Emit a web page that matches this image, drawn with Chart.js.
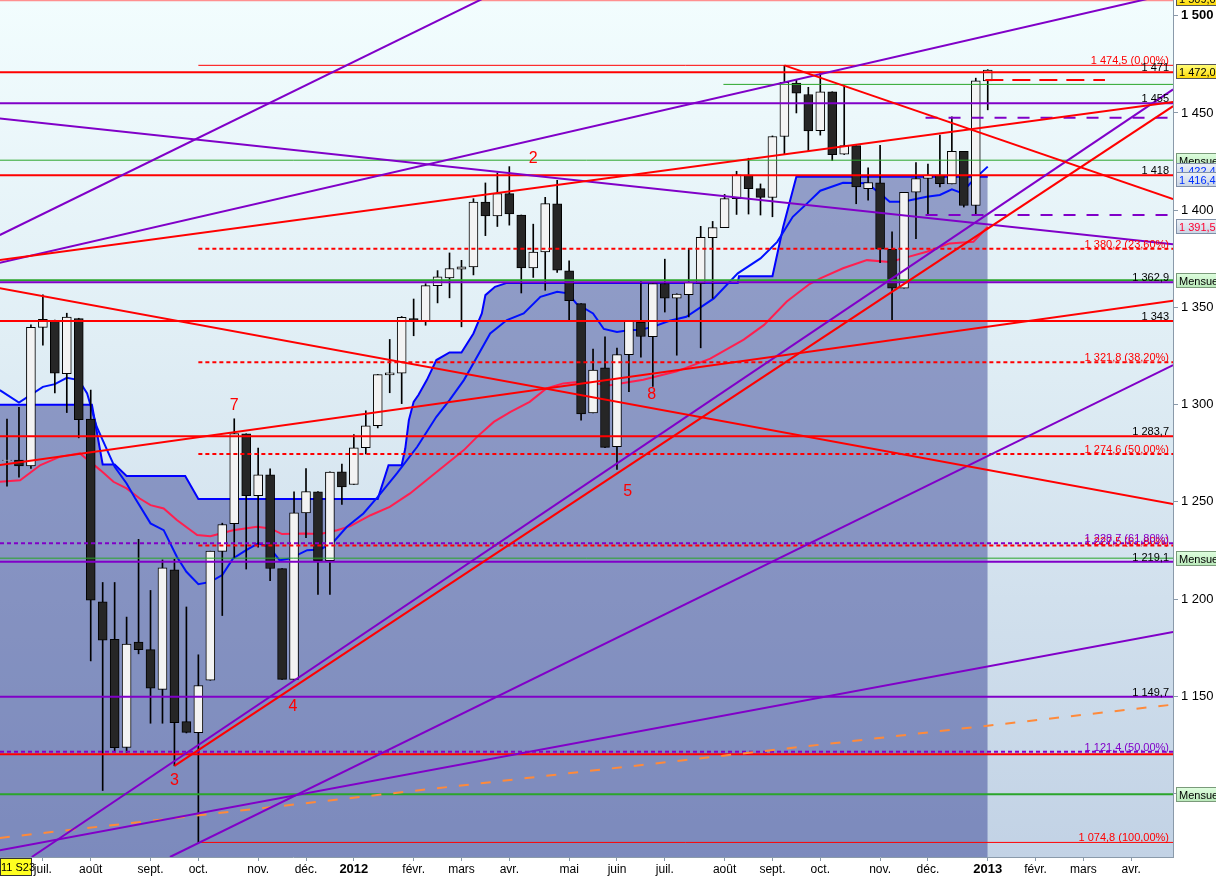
<!DOCTYPE html>
<html>
<head>
<meta charset="utf-8">
<script src="https://cdn.jsdelivr.net/npm/chart.js@4.4.1/dist/chart.umd.min.js"></script>
<style>
  html, body { margin: 0; padding: 0; background: #fff; overflow: hidden; }
  canvas { display: block; }
</style>
</head>
<body>
<canvas id="chart" width="1216" height="876" style="width:1216px;height:876px"></canvas>
<script>
// weekly bars, first one = week of 13 June 2011 (bar index 0)
const firstWeek = '2011-06-13';

const open = [1271.3,1271.5,1268.4,1339.7,1343.3,1315.9,1344.3,1292.6,1198.5,1179.2,1123.6,1177.9,1174.0,1153.5,1215.0,1136.9,1131.2,1158.2,1224.5,1238.7,1285.0,1253.2,1263.9,1215.6,1158.7,1244.3,1255.1,1219.7,1265.4,
  1258.9,1277.8,1289.1,1315.3,1316.2,1344.3,1343.1,1361.2,1365.2,1369.6,1370.8,1404.2,1397.1,1408.5,1397.5,1370.3,1378.5,1403.3,1368.8,1351.9,1295.7,1318.9,1278.3,1325.7,1342.4,1334.9,1362.3,1354.7,1356.5,1362.3,1385.9,1391.0,1405.9,1418.1,1411.1,1406.5,1437.9,1465.4,1459.5,1440.9,1460.9,1428.8,1433.2,1411.0,1414.0,1379.9,1359.9,1409.2,1416.3,1418.1,1413.5,1430.2,1402.4,1466.5];
const high = [1292.5,1298.6,1341.0,1356.5,1343.5,1347.0,1344.4,1307.4,1208.5,1208.5,1190.7,1230.7,1204.4,1220.1,1220.4,1195.9,1171.3,1224.6,1239.0,1292.7,1285.0,1277.6,1267.0,1215.6,1255.1,1267.1,1255.3,1265.4,1269.4,
  1284.6,1296.8,1315.5,1333.5,1345.3,1354.3,1362.2,1368.9,1378.0,1374.2,1405.9,1414.0,1419.2,1422.4,1397.5,1392.8,1406.6,1415.3,1373.9,1351.9,1328.5,1334.9,1329.1,1343.3,1363.5,1362.2,1374.8,1357.0,1380.4,1391.7,1394.2,1408.1,1420.0,1426.7,1413.5,1438.2,1474.5,1467.1,1463.2,1471.0,1460.9,1464.0,1433.2,1421.8,1433.4,1388.8,1409.2,1424.5,1423.7,1438.6,1448.0,1430.2,1467.9,1472.3];
const low = [1258.1,1262.7,1267.2,1330.6,1306.0,1295.9,1282.9,1168.1,1101.5,1122.0,1121.1,1171.8,1136.1,1136.1,1114.2,1131.1,1074.8,1158.2,1191.5,1221.1,1215.4,1226.6,1209.4,1158.7,1158.7,1231.5,1202.4,1202.4,1248.6,
  1258.9,1274.6,1288.0,1306.1,1300.5,1335.4,1340.8,1352.3,1354.9,1340.0,1366.7,1386.9,1391.6,1392.3,1357.4,1365.4,1358.8,1368.0,1343.1,1292.0,1295.7,1277.8,1266.7,1306.6,1324.4,1309.3,1347.6,1325.4,1345.1,1329.2,1354.7,1391.0,1397.8,1398.0,1397.5,1396.6,1429.0,1450.0,1430.5,1438.6,1425.5,1428.6,1403.3,1405.1,1373.0,1343.4,1359.9,1385.4,1398.2,1411.9,1413.5,1401.6,1398.1,1451.6];
const close = [1271.5,1268.5,1339.7,1343.8,1316.1,1345.0,1292.3,1199.4,1178.8,1123.5,1176.8,1174.0,1154.2,1216.0,1136.4,1131.4,1155.5,1224.6,1238.3,1285.1,1253.2,1263.9,1215.7,1158.7,1244.3,1255.2,1219.7,1265.3,1257.6,
  1277.8,1289.1,1315.4,1316.3,1344.9,1342.6,1361.2,1365.7,1370.0,1370.9,1404.2,1397.1,1408.5,1398.1,1370.3,1378.5,1403.4,1369.1,1353.4,1295.2,1317.8,1278.0,1325.7,1342.8,1335.0,1362.2,1354.7,1356.8,1362.7,1386.0,1391.0,1405.9,1418.2,1411.1,1406.6,1437.9,1465.8,1460.2,1440.7,1460.9,1428.6,1433.2,1411.9,1414.2,1379.9,1359.9,1409.2,1416.2,1418.1,1413.6,1430.2,1402.4,1466.5,1472.1];

// indicator lines: [bar index, value]
const blueMA = [[-0.6,1307.4],[1.0,1301],[3.0,1309.1],[4.0,1310.5],[5.0,1313.8],[6.0,1312.6],[6.7,1305.7],[7.5,1288.6],[8.0,1281.7],[9.0,1268],[10.0,1259.4],[10.7,1251.9],[12.0,1238.9],[13.1,1235.4],[14.2,1221.7],[15.0,1214],[16.0,1207.6],[17.0,1208.8],[18.0,1212.3],[18.9,1220.9],[20.0,1225.1],[21.0,1228.6],[21.9,1226.8],[22.8,1219.9],[23.7,1220.9],[25.1,1225.1],[26.2,1225.5],[27.3,1229.4],[28.4,1237],[29.8,1244],[31.0,1252.5],[32.6,1264.6],[34.3,1278.3],[35.9,1293.7],[37.0,1302.3],[38.2,1312.6],[39.0,1321.2],[40.4,1336.6],[41.8,1343.5],[43.2,1346.9],[44.6,1355.4],[46.0,1358],[46.9,1357.2],[47.6,1352],[49.0,1346.9],[49.9,1338.9],[51.0,1337.4],[52.1,1338.3],[52.9,1338.3],[54.0,1340],[55.4,1343.1],[56.8,1345.2],[59.1,1354.6],[61.1,1367.5],[63.0,1375.2],[64.4,1383.7],[65.7,1396.6],[66.9,1403.5],[68.0,1410],[69.9,1414.1],[71.9,1413.8],[73.0,1408.6],[73.8,1404.3],[74.9,1404.3],[76.9,1406.9],[78.0,1407.8],[79.0,1410.7],[79.8,1408.9],[80.8,1415.5],[82.0,1422.4]];
const redMA = [[-0.6,1260.3],[1.1,1261.1],[2.8,1268.9],[4.4,1273.1],[6.1,1274.9],[7.8,1266.3],[8.9,1260.3],[10.0,1256.9],[11.1,1251.7],[12.0,1248.3],[13.1,1246.6],[14.2,1240.6],[15.9,1232.9],[17.0,1232.3],[18.9,1235.4],[20.9,1237.1],[22.0,1236.3],[23.0,1233.4],[24.8,1233.7],[26.2,1233.4],[27.6,1235.4],[28.7,1237.5],[30.4,1243.1],[32.0,1247.4],[33.7,1254.3],[35.4,1262.8],[36.8,1269.7],[38.2,1276.6],[39.3,1283.4],[40.7,1291.1],[42.1,1296.3],[43.7,1301.4],[45.1,1308.3],[46.5,1310.9],[47.9,1311.7],[50.4,1310],[53.2,1312.8],[56.0,1317.1],[58.8,1323.6],[61.6,1333.4],[63.3,1341],[65.2,1353],[67.1,1362],[68.0,1364.9],[69.9,1370.1],[71.9,1374.3],[73.8,1373.4],[74.9,1375.2],[76.9,1378.6],[78.8,1382.9],[80.8,1383.7],[82.0,1391.5]];
const baseLine = [[-0.6,1299.9],[7.1,1299.9],[8.0,1269.2],[9.0,1269.2],[10.0,1263.3],[14.9,1263.3],[16.0,1251.5],[31.0,1251.5],[31.9,1268.8],[33.0,1268.8],[33.3,1277.4],[33.6,1292],[34.0,1301.4],[34.4,1304.9],[35.1,1312.6],[35.9,1322.9],[37.0,1326.8],[38.0,1326.8],[39.0,1336.6],[39.7,1346.9],[40.0,1356.3],[40.8,1360.6],[41.8,1362.6],[61.1,1362.6],[61.2,1366],[64.0,1366],[64.9,1391.5],[66.0,1417.2],[82.0,1417.2]];

// horizontal levels
const redLevels = [1471, 1418, 1343, 1283.7, 1120.2];
const fibLevels = [1380.2, 1321.8, 1274.6, 1227.5];
const fibEnds = [1474.5, 1074.8];
const purpleLevels = [1455, 1362.9, 1219.1, 1149.7];
const purpleDotted = [1228.7, 1121.4];
const greenThin = [1425.7, 1221];
const greenThick = [1364, 1099.6];
const fibStart = 16;

// trend lines: [[bar, value], [bar, value]]
const purpleTrends = [
  [[-0.6,1387.2],[45,1524.5]],
  [[-0.6,1372.9],[97.5,1511.7]],
  [[-0.6,1447.2],[97.5,1382.5]],
  [[2.07,1067.3],[97.5,1462.1]],
  [[13.63,1067.3],[97.5,1320.3]],
  [[-0.6,1070.8],[97.5,1183.1]]
];
const redTrends = [
  [[-0.6,1374.3],[97.5,1455.6]],
  [[-0.6,1359.8],[97.5,1248.8]],
  [[-0.6,1268.9],[97.5,1353.4]],
  [[65,1474.5],[97.5,1405.7]],
  [[14,1114.2],[97.5,1453.5]]
];
const orangeTrend = [[-0.6,1077.1],[97.5,1145.7]];

const waveTags = ['2','3','4','5','7','8'];
const waveAt = [[44.0,1426.3],[14.0,1106.8],[23.9,1144.9],[51.9,1255.0],[19.0,1299.7],[53.9,1305]];

const levelTags = [
  ['1 474,5 (0,00%)', 1474.5, '#ff0000'],
  ['1 471', 1471, '#000'],
  ['1 455', 1455, '#000'],
  ['1 418', 1418, '#000'],
  ['1 380,2 (23,60%)', 1380.2, '#ff0000'],
  ['1 362,9', 1362.9, '#000'],
  ['1 343', 1343, '#000'],
  ['1 321,8 (38,20%)', 1321.8, '#ff0000'],
  ['1 283,7', 1283.7, '#000'],
  ['1 274,6 (50,00%)', 1274.6, '#ff0000'],
  ['1 227,5 (61,80%)', 1227.5, '#ff0000'],
  ['1 228,7 (61,80%)', 1228.7, '#8000c8'],
  ['1 219,1', 1219.1, '#000'],
  ['1 149,7', 1149.7, '#000'],
  ['1 121,4 (50,00%)', 1121.4, '#8000c8'],
  ['1 074,8 (100,00%)', 1074.8, '#ff0000']
];

const yTicks = [1100, 1150, 1200, 1250, 1300, 1350, 1400, 1450, 1500];
const monthNames = ['janv.','févr.','mars','avr.','mai','juin','juil.','août','sept.','oct.','nov.','déc.'];

const X_MIN = -0.585, X_MAX = 97.49, Y_MIN = 1067.3, Y_MAX = 1508.1;
const FONT = '"Liberation Sans", Arial, sans-serif';
const RED = '#ff0000', PURPLE = '#8000c8', GREEN = '#2aa52a';

// month ticks sit on the first weekly bar of each month
const DAY = 86400000;
const t0 = Date.parse(firstWeek + 'T00:00:00Z');
const monthTicks = [];
for (let yr = 2011; yr <= 2013; yr++) {
  for (let m = 0; m < 12; m++) {
    const t = Date.UTC(yr, m, 1);
    const dow = new Date(t).getUTCDay();
    const first = t + ((8 - dow) % 7) * DAY;
    const k = Math.round((first - t0) / DAY) / 7;
    if (k > X_MIN + 1 && k < X_MAX) monthTicks.push({ k: k, label: m === 0 ? String(yr) : monthNames[m], year: m === 0 });
  }
}

function fmt(v) {
  return String(v).replace(/\B(?=(\d{3})+(?!\d))/g, ' ');
}

function lineDs(pts, color, width, dash, order) {
  return {
    type: 'line',
    data: pts.map(p => ({ x: p[0], y: p[1] })),
    borderColor: color, borderWidth: width, borderDash: dash || [],
    borderCapStyle: 'butt', pointRadius: 0, pointHoverRadius: 0,
    fill: false, tension: 0, order: order
  };
}

const datasets = [];
datasets.push({
  type: 'line',
  data: baseLine.map(p => ({ x: p[0], y: p[1] })),
  borderColor: '#0000ff', borderWidth: 2, pointRadius: 0, tension: 0,
  fill: 'start', backgroundColor: 'rgba(40,50,140,0.45)', order: 100
});
datasets.push(lineDs(redMA, '#ff1f4f', 2, [], 90));
datasets.push(lineDs(blueMA, '#0010ff', 2, [], 89));
datasets.push({
  type: 'bar',
  data: low.map((l, i) => ({ x: i, y: [l, high[i]] })),
  backgroundColor: '#000', borderWidth: 0, barThickness: 1, grouped: false, order: 80
});
datasets.push({
  type: 'bar',
  data: open.map((o, i) => ({ x: i, y: [Math.min(o, close[i]), Math.max(o, close[i])] })),
  backgroundColor: open.map((o, i) => close[i] >= o ? '#f3f3f3' : '#262626'),
  borderColor: '#000', borderWidth: 1, borderSkipped: false,
  barThickness: 9, grouped: false, order: 79
});

// horizontal levels
greenThin.forEach(v => datasets.push(lineDs([[X_MIN, v], [X_MAX, v]], GREEN, 1, [], 30)));
greenThick.forEach(v => datasets.push(lineDs([[X_MIN, v], [X_MAX, v]], GREEN, 2, [], 30)));
purpleLevels.forEach(v => datasets.push(lineDs([[X_MIN, v], [X_MAX, v]], PURPLE, 2, [], 29)));
purpleDotted.forEach(v => datasets.push(lineDs([[X_MIN, v], [X_MAX, v]], PURPLE, 2, [4, 3], 29)));
redLevels.forEach(v => datasets.push(lineDs([[X_MIN, v], [X_MAX, v]], RED, 2, [], 28)));
fibLevels.forEach(v => datasets.push(lineDs([[fibStart, v], [X_MAX, v]], RED, 2, [4, 3], 28)));
fibEnds.forEach(v => datasets.push(lineDs([[fibStart, v], [X_MAX, v]], RED, 1, [], 28)));
datasets.push(lineDs([[X_MIN, 1508], [X_MAX, 1508]], '#ff9090', 2, [], 28));
datasets.push(lineDs([[59.9, 1464.7], [X_MAX, 1464.7]], GREEN, 1, [], 28));
datasets.push(lineDs([[81.8, 1467], [91.8, 1467]], RED, 2, [18, 9], 27));
datasets.push(lineDs([[76.8, 1447.5], [X_MAX, 1447.5]], PURPLE, 2, [12, 11], 27));
datasets.push(lineDs([[76.8, 1397.5], [X_MAX, 1397.5]], PURPLE, 2, [12, 11], 27));

// trend lines
purpleTrends.forEach(t => datasets.push(lineDs(t, PURPLE, 2, [], 20)));
redTrends.forEach(t => datasets.push(lineDs(t, RED, 2, [], 19)));
datasets.push(lineDs(orangeTrend, '#ff8a3a', 2, [10, 12], 21));

const background = {
  id: 'background',
  beforeDraw(chart) {
    const { ctx, chartArea: a } = chart;
    ctx.save();
    ctx.fillStyle = '#fff';
    ctx.fillRect(0, 0, chart.width, chart.height);
    const g = ctx.createLinearGradient(0, a.top, 0, a.bottom);
    g.addColorStop(0, '#f2fdfe');
    g.addColorStop(0.4, '#e0eef5');
    g.addColorStop(1, '#c2d2e5');
    ctx.fillStyle = g;
    ctx.fillRect(a.left, a.top, a.right - a.left, a.bottom - a.top);
    ctx.restore();
  }
};

function tag(ctx, text, py, c1, c2, stroke, color) {
  const x0 = 1176, h = 15, w = 45, top = Math.round(py - h / 2);
  const g = ctx.createLinearGradient(0, top, 0, top + h);
  g.addColorStop(0, c1);
  g.addColorStop(1, c2);
  ctx.fillStyle = g;
  ctx.fillRect(x0, top, w, h);
  ctx.strokeStyle = stroke;
  ctx.lineWidth = 1;
  ctx.strokeRect(x0 + 0.5, top + 0.5, w, h - 1);
  ctx.fillStyle = color;
  ctx.font = '11px ' + FONT;
  ctx.textAlign = 'left';
  ctx.textBaseline = 'middle';
  ctx.fillText(text, x0 + 3, top + h / 2 + 1);
}

const notes = {
  id: 'notes',
  afterDatasetsDraw(chart) {
    const { ctx, chartArea: a, scales: { x, y } } = chart;
    ctx.save();
    ctx.beginPath();
    ctx.rect(a.left, a.top, a.right - a.left, a.bottom - a.top);
    ctx.clip();
    ctx.font = '16px ' + FONT;
    ctx.fillStyle = RED;
    ctx.textAlign = 'center';
    ctx.textBaseline = 'middle';
    waveTags.forEach((t, i) => ctx.fillText(t, x.getPixelForValue(waveAt[i][0]), y.getPixelForValue(waveAt[i][1])));
    ctx.font = '11px ' + FONT;
    ctx.textAlign = 'right';
    ctx.textBaseline = 'alphabetic';
    levelTags.forEach(t => {
      ctx.fillStyle = t[2];
      ctx.fillText(t[0], a.right - 4, y.getPixelForValue(t[1]) - 1);
    });
    ctx.restore();
  },
  afterDraw(chart) {
    const { ctx, chartArea: a, scales: { y } } = chart;
    ctx.save();
    const py = v => y.getPixelForValue(v);
    tag(ctx, '1 509,0', py(1509), '#ffff80', '#ffd800', '#555', '#000');
    tag(ctx, '1 472,0', py(1471.5), '#ffff80', '#ffd800', '#555', '#000');
    tag(ctx, 'Mensuel', py(greenThin[0]), '#e0ffe0', '#b8e8b8', '#7a9a7a', '#000');
    tag(ctx, '1 422,4', py(1422.4) + 4, '#eef2f8', '#c8d4e4', '#8090a8', '#0030ff');
    tag(ctx, '1 416,4', py(1416.4) + 1, '#eef2f8', '#c8d4e4', '#8090a8', '#0030ff');
    tag(ctx, '1 391,5', py(1391.5), '#eef2f8', '#c8d4e4', '#8090a8', '#ff0030');
    tag(ctx, 'Mensuel', py(greenThick[0]), '#e0ffe0', '#b8e8b8', '#7a9a7a', '#000');
    tag(ctx, 'Mensuel', py(greenThin[1]), '#e0ffe0', '#b8e8b8', '#7a9a7a', '#000');
    tag(ctx, 'Mensuel', py(greenThick[1]), '#e0ffe0', '#b8e8b8', '#7a9a7a', '#000');
    // week stamp at bottom left
    ctx.fillStyle = '#ffff20';
    ctx.fillRect(0, a.bottom + 1, 32, 18);
    ctx.strokeStyle = '#333';
    ctx.strokeRect(0.5, a.bottom + 1.5, 31, 17);
    ctx.fillStyle = '#000';
    ctx.font = '11px ' + FONT;
    ctx.textAlign = 'left';
    ctx.textBaseline = 'middle';
    ctx.fillText('11 S23', 1, a.bottom + 11);
    ctx.restore();
  }
};

new Chart(document.getElementById('chart').getContext('2d'), {
  type: 'bar',
  data: { datasets: datasets },
  options: {
    responsive: false,
    animation: false,
    devicePixelRatio: 1,
    layout: { padding: 0 },
    plugins: { legend: { display: false }, tooltip: { enabled: false } },
    scales: {
      x: {
        type: 'linear', min: X_MIN, max: X_MAX, offset: false, position: 'bottom',
        afterBuildTicks: s => { s.ticks = monthTicks.map(t => ({ value: t.k })); },
        afterFit: s => { s.height = 19; s.paddingLeft = 0; s.paddingRight = 0; },
        ticks: {
          autoSkip: false, maxRotation: 0, padding: 1, color: '#000',
          font: c => {
            const m = c.tick && monthTicks.find(t => t.k === c.tick.value);
            return m && m.year ? { family: FONT, size: 13, weight: 'bold' } : { family: FONT, size: 12 };
          },
          callback: v => { const m = monthTicks.find(t => t.k === v); return m ? m.label : ''; }
        },
        grid: { drawOnChartArea: false, offset: false, tickLength: 4, color: '#8a9aaa' },
        border: { color: '#8a9aaa' }
      },
      y: {
        type: 'linear', position: 'right', min: Y_MIN, max: Y_MAX,
        afterBuildTicks: s => { s.ticks = yTicks.map(v => ({ value: v })); },
        afterFit: s => { s.width = 43; s.paddingTop = 0; s.paddingBottom = 0; },
        ticks: {
          padding: 3, color: '#000',
          font: c => (c.tick && c.tick.value === 1500) ? { family: FONT, size: 13, weight: 'bold' } : { family: FONT, size: 13 },
          callback: v => fmt(v)
        },
        grid: { drawOnChartArea: false, tickLength: 5, color: '#8a9aaa' },
        border: { color: '#8a9aaa' }
      }
    }
  },
  plugins: [background, notes]
});
</script>
</body>
</html>
